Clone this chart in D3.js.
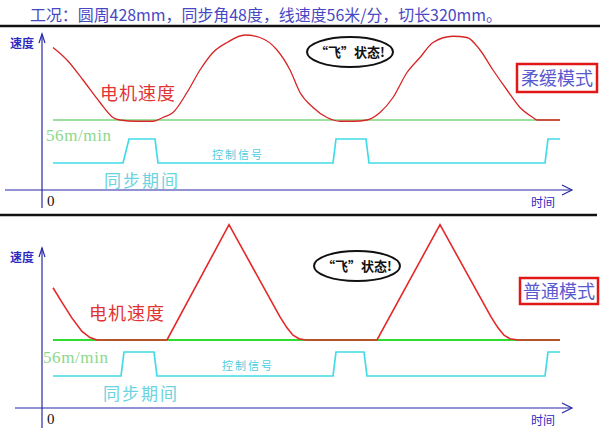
<!DOCTYPE html>
<html>
<head>
<meta charset="utf-8">
<script src="https://cdn.jsdelivr.net/npm/d3@7"></script>
<style>
  body { margin: 0; background: #fff; }
  svg { display: block; font-family: "Noto Sans CJK SC", sans-serif; }
</style>
</head>
<body>
<div id="chart"></div>
<script>
// Chart values
const title = "工况：圆周428mm，同步角48度，线速度56米/分，切长320mm。";
const lineSpeed = 56; // m/min

// soft mode (柔缓模式) motor speed
const softTime  = [11, 25, 41, 58, 71, 78, 95, 111, 121, 131, 145, 158, 171, 185, 203, 218, 235, 248, 258, 271, 285, 298, 311, 325, 338, 351, 365, 378, 391, 411, 425, 438, 451, 465, 478, 491, 495, 518];
const softSpeed = [114, 104, 88, 70, 58, 56, 55, 55, 58, 62, 78, 96, 110, 118, 124, 122, 112, 96, 78, 66, 58, 55, 55, 56, 62, 74, 94, 106, 118, 123, 122, 112, 96, 80, 66, 58, 56, 56];

// normal mode (普通模式) motor speed
const normTime  = [11, 20, 30, 40, 48, 55, 125, 187, 238, 245, 251, 257, 264, 335, 398, 449, 456, 462, 468, 476, 518];
const normSpeed = [99, 87, 74, 63, 58, 56, 56, 151, 75, 66, 60, 57, 56, 56, 151, 75, 66, 60, 57, 56, 56];

// control signal (控制信号), 0 = low, 1 = high
const softSigTime = [11, 81, 87, 113, 116, 291, 294, 324, 327, 503, 506, 518];
const normSigTime = [11, 79, 82, 112, 115, 291, 294, 322, 325, 503, 506, 518];
const sigLevel    = [0, 0, 1, 1, 0, 0, 1, 1, 0, 0, 1, 1];

const width = 600, height = 429;

const svg = d3.select("#chart")
  .append("svg")
  .attr("width", width)
  .attr("height", height);

// shared time scale
const x = d3.scaleLinear().domain([0, 530]).range([42, 572]);

// title + separator lines
svg.append("text")
  .attr("x", 30).attr("y", 21)
  .attr("font-size", 16)
  .attr("fill", "#4848c4")
  .attr("textLength", 472)
  .attr("lengthAdjust", "spacingAndGlyphs")
  .text(title);

svg.append("line")
  .attr("x1", 0).attr("x2", 600).attr("y1", 26).attr("y2", 26)
  .attr("stroke", "#111").attr("stroke-width", 2.5);

svg.append("line")
  .attr("x1", 0).attr("x2", 597).attr("y1", 215).attr("y2", 215)
  .attr("stroke", "#111").attr("stroke-width", 2.5);

const panels = [
  {
    time: softTime, speed: softSpeed, sigTime: softSigTime,
    axisY: 190, lineY: 120, sigLow: 163, sigHigh: 139,
    yTop: 34, yBottom: 208, xStart: 5,
    redWidth: 1.3, redColor: "#d82424", greenWidth: 1.2, greenColor: "#3cc03c",
    motorLabel: [100, 100], speedLabel: [46, 141], syncLabel: [104, 187], ctrlLabel: [212, 159],
    ellipse: [350, 52], mode: "柔缓模式", box: [517, 64, 80, 28], speedTag: 48
  },
  {
    time: normTime, speed: normSpeed, sigTime: normSigTime,
    axisY: 408, lineY: 340, sigLow: 376, sigHigh: 352,
    yTop: 248, yBottom: 428, xStart: 15,
    redWidth: 1.6, redColor: "#e42828", greenWidth: 2.2, greenColor: "#30dc30",
    motorLabel: [89, 320], speedLabel: [43, 363], syncLabel: [103, 400], ctrlLabel: [222, 370],
    ellipse: [357, 266], mode: "普通模式", box: [520, 278, 78, 26], speedTag: 262
  }
];

panels.forEach(p => {
  const g = svg.append("g");
  const y = d3.scaleLinear().domain([0, lineSpeed]).range([p.axisY, p.lineY]);
  const ySig = d3.scaleLinear().domain([0, 1]).range([p.sigLow, p.sigHigh]);
  const axisColor = "#2828a8";

  // axes
  g.append("line")
    .attr("x1", x(0)).attr("x2", x(0))
    .attr("y1", p.yTop).attr("y2", p.yBottom)
    .attr("stroke", axisColor).attr("stroke-width", 1.2);
  g.append("path")
    .attr("d", `M${x(0) - 3},${p.yTop + 9}L${x(0)},${p.yTop}L${x(0) + 3},${p.yTop + 9}`)
    .attr("fill", "none").attr("stroke", axisColor).attr("stroke-width", 1.2);

  g.append("line")
    .attr("x1", p.xStart).attr("x2", x(530))
    .attr("y1", y(0)).attr("y2", y(0))
    .attr("stroke", axisColor).attr("stroke-width", 1.2);
  g.append("path")
    .attr("d", `M${x(530) - 10},${y(0) - 5}L${x(530)},${y(0)}L${x(530) - 10},${y(0) + 5}`)
    .attr("fill", "none").attr("stroke", axisColor).attr("stroke-width", 1.2);

  g.append("text")
    .attr("x", 10).attr("y", p.speedTag)
    .attr("font-size", 12).attr("font-weight", "bold")
    .attr("fill", "#2c2cc0")
    .text("速度");
  g.append("text")
    .attr("x", x(530) - 41).attr("y", y(0) + 17)
    .attr("font-size", 12)
    .attr("fill", "#2c2cc0")
    .text("时间");
  g.append("text")
    .attr("x", x(0) + 5).attr("y", y(0) + 16)
    .attr("font-family", "Liberation Serif")
    .attr("font-size", 15)
    .attr("fill", "#111")
    .text("0");

  // line speed reference
  g.append("line")
    .attr("x1", x(p.time[0])).attr("x2", x(p.time[p.time.length - 1]))
    .attr("y1", y(lineSpeed)).attr("y2", y(lineSpeed))
    .attr("stroke", p.greenColor).attr("stroke-width", p.greenWidth);

  // motor speed
  const motor = d3.line()
    .x(d => x(d[0]))
    .y(d => y(d[1]))
    .curve(p === panels[0] ? d3.curveMonotoneX : d3.curveLinear);
  g.append("path")
    .datum(d3.zip(p.time, p.speed))
    .attr("d", motor)
    .attr("fill", "none")
    .attr("stroke", p.redColor)
    .attr("stroke-width", p.redWidth);

  // control signal
  const sig = d3.line()
    .x(d => x(d[0]))
    .y(d => ySig(d[1]));
  g.append("path")
    .datum(d3.zip(p.sigTime, sigLevel))
    .attr("d", sig)
    .attr("fill", "none")
    .attr("stroke", "#40dce6")
    .attr("stroke-width", 1.7);

  // labels
  g.append("text")
    .attr("x", p.motorLabel[0]).attr("y", p.motorLabel[1])
    .attr("font-size", 18).attr("letter-spacing", 1)
    .attr("fill", "#e03434")
    .text("电机速度");
  g.append("text")
    .attr("x", p.speedLabel[0]).attr("y", p.speedLabel[1])
    .attr("font-family", "Liberation Serif")
    .attr("font-size", 17).attr("letter-spacing", 0.6)
    .attr("fill", "#8cd88c")
    .text("56m/min");
  g.append("text")
    .attr("x", p.syncLabel[0]).attr("y", p.syncLabel[1])
    .attr("font-size", 17).attr("letter-spacing", 2)
    .attr("fill", "#6cd4e0")
    .text("同步期间");
  g.append("text")
    .attr("x", p.ctrlLabel[0]).attr("y", p.ctrlLabel[1])
    .attr("font-size", 11).attr("letter-spacing", 2)
    .attr("fill", "#50cce0")
    .text("控制信号");

  // "飞" callout
  g.append("ellipse")
    .attr("cx", p.ellipse[0]).attr("cy", p.ellipse[1])
    .attr("rx", 43).attr("ry", 15)
    .attr("fill", "#fff").attr("stroke", "#111").attr("stroke-width", 2);
  g.append("text")
    .attr("x", p.ellipse[0]).attr("y", p.ellipse[1] + 5)
    .attr("text-anchor", "middle")
    .attr("font-size", 13).attr("font-weight", "bold")
    .attr("fill", "#111")
    .text("“飞”状态!");

  // mode box
  g.append("rect")
    .attr("x", p.box[0]).attr("y", p.box[1])
    .attr("width", p.box[2]).attr("height", p.box[3])
    .attr("fill", "#fff").attr("stroke", "#e01818").attr("stroke-width", 2.5);
  g.append("text")
    .attr("x", p.box[0] + p.box[2] / 2).attr("y", p.box[1] + p.box[3] / 2 + 7)
    .attr("text-anchor", "middle")
    .attr("font-size", 18)
    .attr("fill", "#5a5ad0")
    .text(p.mode);
});
</script>
</body>
</html>
